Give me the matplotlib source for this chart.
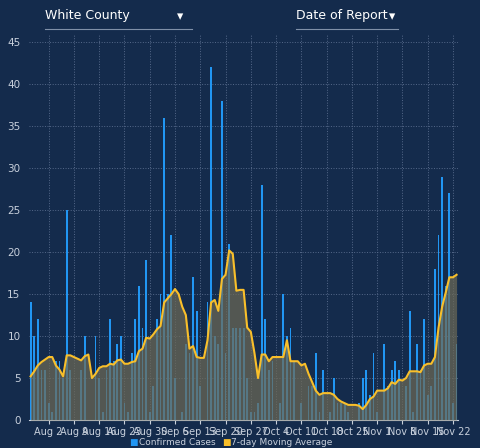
import matplotlib.pyplot as plt
import numpy as np
import pandas as pd

# daily confirmed cases, Jul 28 -> Nov 23
cases = [14, 10, 12, 6, 6, 2, 1, 7, 7, 5,
         25, 6, 0, 0, 6, 10, 0, 0, 10, 5,
         1, 6, 12, 7, 9, 10, 2, 1, 8, 12,
         16, 11, 19, 1, 4, 12, 15, 36, 15, 22,
         5, 0, 1, 9, 8, 17, 13, 4, 0, 14,
         42, 10, 9, 38, 8, 21, 11, 11,
         11, 11, 5, 1, 1, 2, 28, 12, 6, 7,
         0, 2, 15, 10, 11, 7, 0, 2, 0, 4,
         4, 8, 1, 6, 0, 1, 5, 2, 2, 2,
         1, 0, 0, 2, 5, 6, 3, 8, 1, 0,
         9, 4, 6, 7, 6, 0, 4, 13, 1, 9,
         6, 12, 3, 4, 18, 22, 29, 16, 27, 2, 9]
avg7 = [5.2, 5.8, 6.5, 6.9, 7.2, 7.5, 7.5, 6.5, 6.0, 5.2,
        7.7, 7.7, 7.5, 7.3, 7.1, 7.6, 7.8, 5.0, 5.5, 6.2,
        6.4, 6.4, 6.7, 6.6, 7.1, 7.2, 6.7, 6.7, 6.9, 7.0,
        8.2, 8.5, 9.8, 9.7, 10.2, 10.8, 11.2, 14.0, 14.5, 15.0,
        15.6, 15.0, 13.5, 12.5, 8.5, 8.8, 7.5, 7.4, 7.4, 9.5,
        14.0, 14.3, 13.0, 16.8, 17.3, 20.2, 19.8, 15.4, 15.5,
        15.5, 11.0, 10.5, 8.0, 5.0, 7.8, 7.8, 7.0, 7.5, 7.5,
        7.5, 7.5, 9.5, 7.0, 7.0, 7.0, 6.5, 6.7, 5.5, 4.5,
        3.5, 3.0, 3.2, 3.2, 3.2, 3.0, 2.5, 2.2, 2.0, 1.8,
        1.8, 1.8, 1.7, 1.3, 1.8, 2.5, 2.8, 3.5, 3.5, 3.5,
        3.8, 4.5, 4.3, 4.8, 4.7, 5.0, 5.8, 5.8, 5.8, 5.7,
        6.5, 6.7, 6.7, 7.5, 11.0, 13.5, 15.2, 17.0, 17.0, 17.3]
dates = pd.date_range("2020-07-28", periods=len(cases))
tick_labels = ["Aug 2", "Aug 9", "Aug 16", "Aug 23", "Aug 30", "Sep 6", "Sep 13", "Sep 20",
               "Sep 27", "Oct 4", "Oct 11", "Oct 18", "Oct 25", "Nov 1", "Nov 8", "Nov 15", "Nov 22"]

bg = "#142b4c"
fig = plt.figure(figsize=(4.8, 4.48), dpi=100, facecolor=bg)
ax = fig.add_axes([0.06, 0.0625, 0.895, 0.862], facecolor=bg)

x = np.arange(len(cases))
ax.bar(x, cases, width=0.5, color="#2196f3", zorder=2)
ax.fill_between(x, avg7, color="#6e6a55", alpha=0.7, zorder=3, lw=0)
ax.plot(x, avg7, color="#f9bf2a", lw=1.5, zorder=4)

tick_pos = [list(dates.strftime("%b %-d")).index(t) for t in tick_labels]
ax.set_xticks(tick_pos)
ax.set_xticklabels(tick_labels, fontsize=7, color="#e0e6ee")
ax.set_yticks(range(0, 46, 5))
ax.tick_params(axis="y", labelsize=7.5, colors="#c8d0dc", length=0, pad=6)
ax.tick_params(axis="x", colors="#c8d0dc", length=3, pad=2)
ax.set_xlim(-0.5, len(cases) - 0.5)
ax.set_ylim(0, 46)
ax.grid(True, color="#55698a", ls=":", lw=0.7, zorder=0)
for s in ["top", "right", "left"]:
    ax.spines[s].set_visible(False)
ax.spines["bottom"].set_color("#c8d0dc")

# header selectors
fig.text(0.094, 0.965, "White County", color="white", fontsize=9, va="center")
fig.text(0.368, 0.962, "\u25BE", color="white", fontsize=9, va="center")
fig.add_artist(plt.Line2D([0.094, 0.40], [0.935, 0.935], color="#8090a8", lw=0.8))
fig.text(0.617, 0.965, "Date of Report", color="white", fontsize=9, va="center")
fig.text(0.81, 0.962, "\u25BE", color="white", fontsize=9, va="center")
fig.add_artist(plt.Line2D([0.617, 0.83], [0.935, 0.935], color="#8090a8", lw=0.8))

# legend
fig.text(0.27, 0.006, "\u25A0", color="#2196f3", fontsize=6.5)
fig.text(0.29, 0.006, "Confirmed Cases", color="#c8d0dc", fontsize=6.5)
fig.text(0.462, 0.006, "\u25A0", color="#f9bf2a", fontsize=6.5)
fig.text(0.482, 0.006, "7-day Moving Average", color="#c8d0dc", fontsize=6.5)

fig.savefig("out.png", dpi=100, facecolor=bg)
